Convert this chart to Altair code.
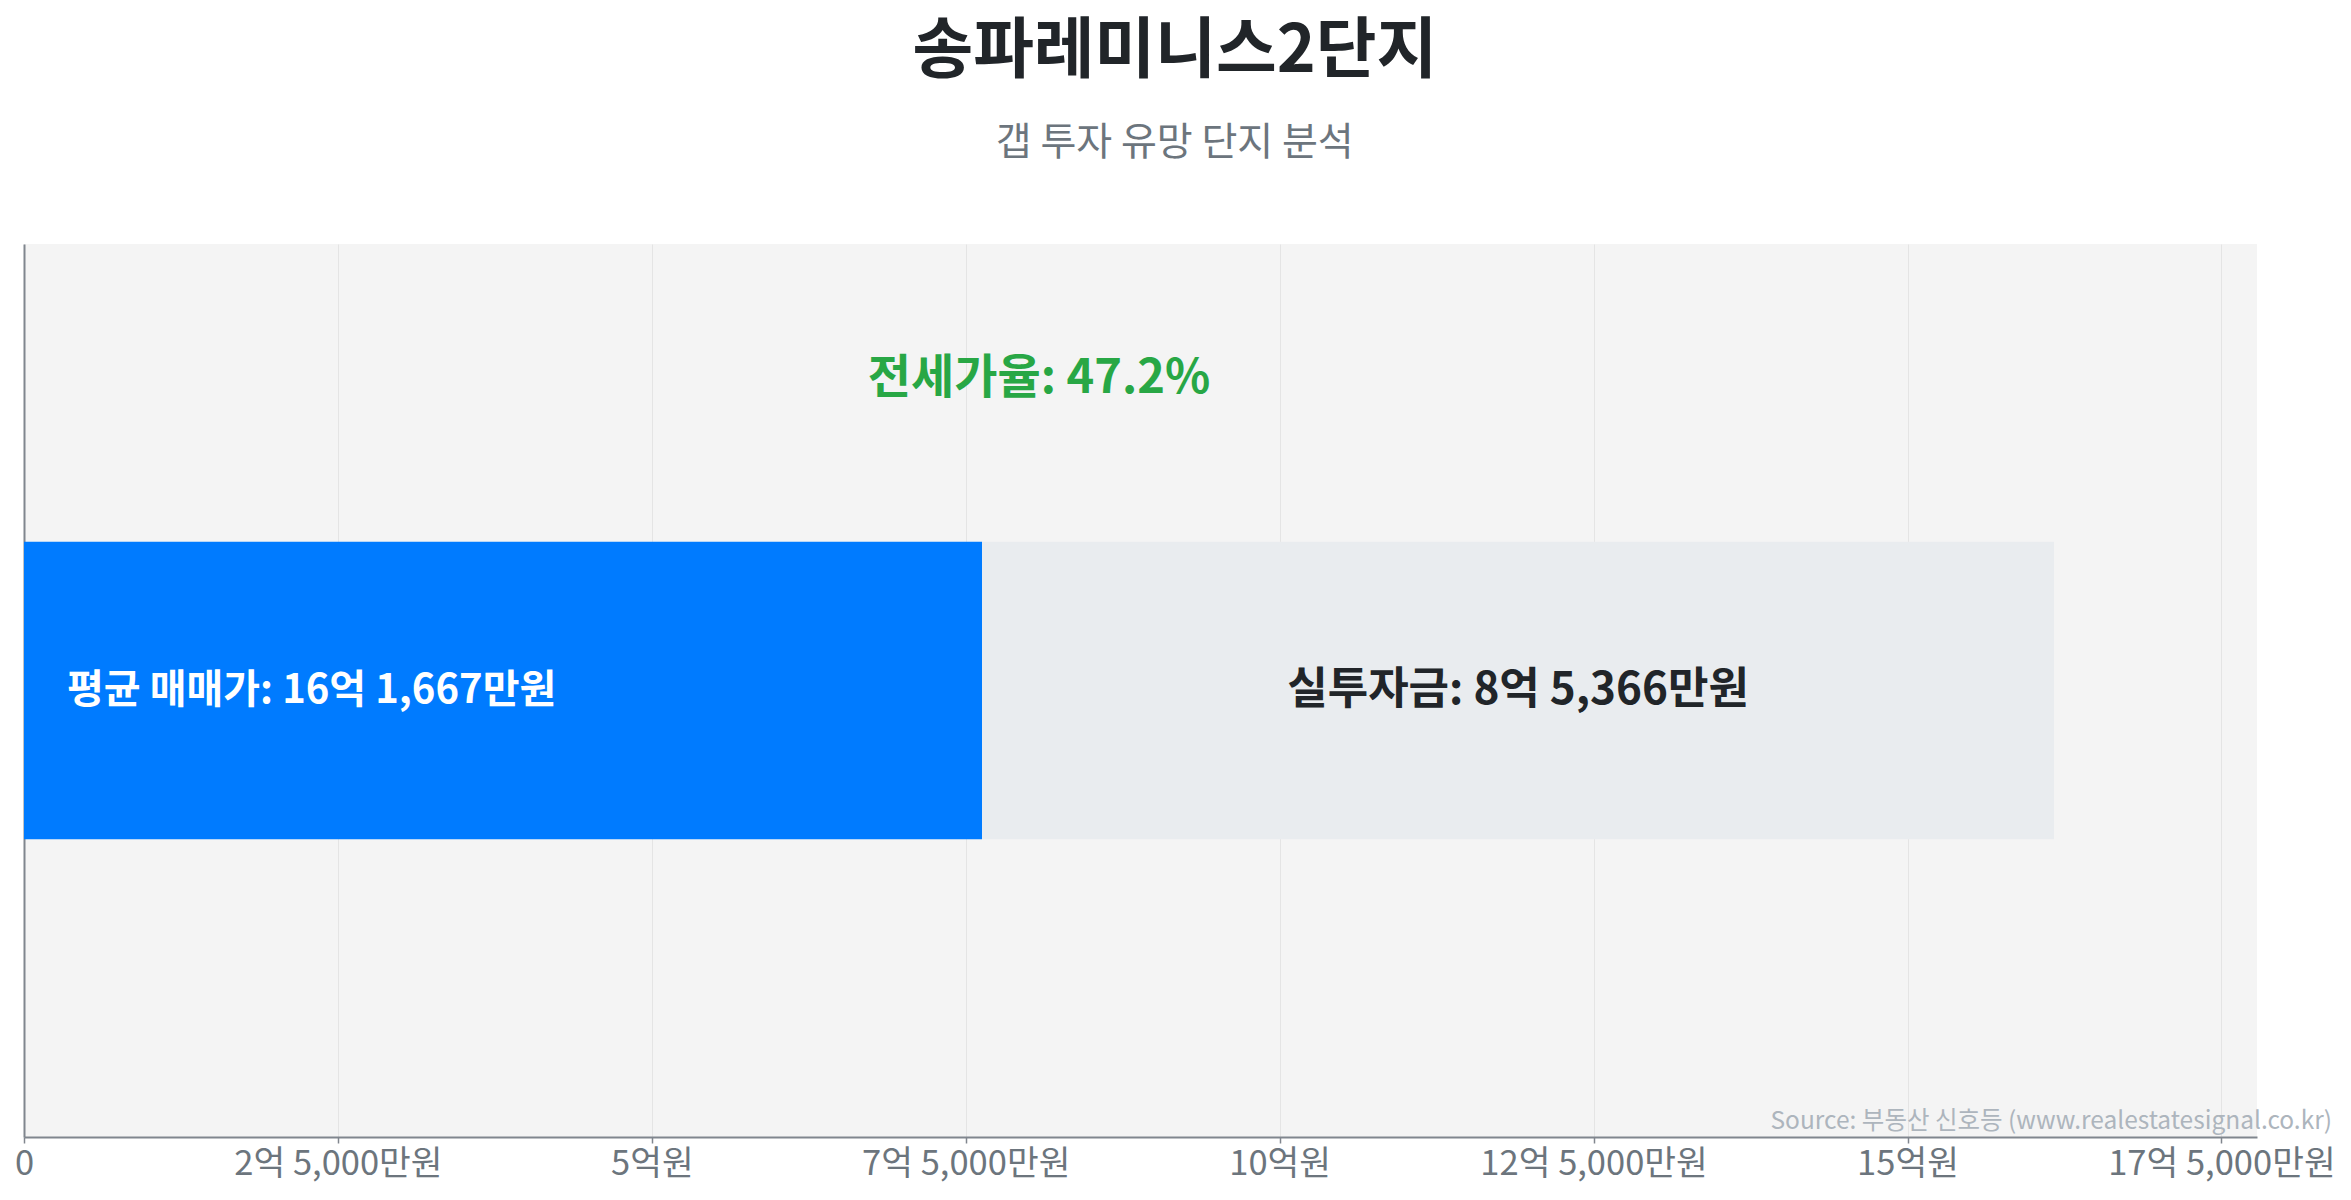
import altair as alt
import pandas as pd

# ---- data (values in 만원) ----
complex_name = "송파레미니스2단지"
subtitle_text = "갭 투자 유망 단지 분석"
avg_price = 161667          # 평균 매매가 16억 1,667만원
gap_amount = 85366          # 실투자금 8억 5,366만원
jeonse_rate_label = "전세가율: 47.2%"
price_label = "평균 매매가: 16억 1,667만원"
gap_label = "실투자금: 8억 5,366만원"
source_label = "Source: 부동산 신호등 (www.realestatesignal.co.kr)"
tick_values = [0, 25000, 50000, 75000, 100000, 125000, 150000, 175000]

jeonse = avg_price - gap_amount
domain_max = avg_price * 1.1

bars = pd.DataFrame({
    "row": ["a", "a"],
    "seg": ["jeonse", "gap"],
    "start": [0, jeonse],
    "end": [jeonse, avg_price],
})
labels = pd.DataFrame({
    "row": ["a", "a", "a"],
    "kind": ["price", "gap", "rate"],
    "x": [0, (jeonse + avg_price) / 2, avg_price / 2],
    "text": [price_label, gap_label, jeonse_rate_label],
})
src = pd.DataFrame({"row": ["a"], "x": [domain_max], "text": [source_label]})

FONT = "Noto Sans CJK KR"
W, H = 2233, 893

xscale = alt.Scale(domain=[0, domain_max], nice=False, zero=True)
yscale = alt.Scale(paddingInner=0, paddingOuter=1)

label_expr = (
    "datum.value == 0 ? '0' : "
    "(datum.value % 10000 == 0 ? format(floor(datum.value / 10000), 'd') + '억원' : "
    "format(floor(datum.value / 10000), 'd') + '억 ' + format(datum.value % 10000, ',') + '만원')"
)

x_axis = alt.Axis(
    values=tick_values, labelExpr=label_expr, title=None,
    grid=True, gridColor="#e4e4e4", gridWidth=1,
    domainColor="#80868e", domainWidth=2,
    tickColor="#80868e", tickWidth=1.5, tickSize=6,
    labelFont=FONT, labelFontSize=34.5, labelColor="#6c757d", labelPadding=4,
    labelFlush=False, labelLimit=0, labelOverlap=False,
)
y_axis = alt.Axis(
    labels=False, ticks=False, title=None, grid=False,
    domainColor="#80868e", domainWidth=2,
)

bar = alt.Chart(bars).mark_bar().encode(
    x=alt.X("start:Q", scale=xscale, axis=x_axis),
    x2="end:Q",
    y=alt.Y("row:N", scale=yscale, axis=y_axis),
    color=alt.Color("seg:N", scale=alt.Scale(domain=["jeonse", "gap"], range=["#007bff", "#e9ecef"]), legend=None),
)

price_text = alt.Chart(labels).transform_filter("datum.kind == 'price'").mark_text(
    align="left", baseline="middle", dx=43, font=FONT, fontSize=40, fontWeight="bold", color="#ffffff"
).encode(x=alt.X("x:Q", scale=xscale), y=alt.Y("row:N", scale=yscale), text="text:N")

gap_text = alt.Chart(labels).transform_filter("datum.kind == 'gap'").mark_text(
    align="center", baseline="middle", font=FONT, fontSize=44, fontWeight="bold", color="#212529"
).encode(x=alt.X("x:Q", scale=xscale), y=alt.Y("row:N", scale=yscale), text="text:N")

rate_text = alt.Chart(labels).transform_filter("datum.kind == 'rate'").mark_text(
    align="center", baseline="middle", dy=-312, font=FONT, fontSize=47, fontWeight="bold", color="#28a745"
).encode(x=alt.X("x:Q", scale=xscale), y=alt.Y("row:N", scale=yscale), text="text:N")

source_text = alt.Chart(src).mark_text(
    align="right", baseline="bottom", dx=75, dy=-3, font=FONT, fontSize=24.5, color="#adb5bd"
).encode(x=alt.X("x:Q", scale=xscale), y=alt.value(H), text="text:N")

chart = alt.layer(bar, price_text, gap_text, rate_text, source_text).properties(
    width=W, height=H,
    background="#ffffff",
    title=alt.TitleParams(
        text=complex_name, subtitle=subtitle_text, anchor="middle", frame="bounds",
        font=FONT, fontSize=66, fontWeight="bold", color="#212529",
        subtitleFont=FONT, subtitleFontSize=39, subtitleColor="#6c757d",
        subtitlePadding=38, offset=80,
    ),
    padding={"left": 16, "top": 236, "right": 86, "bottom": 55},
    autosize=alt.AutoSizeParams(type="none"),
).configure_view(fill="#f4f4f4", stroke=None)

chart.save("out.html", embed_options={"renderer": "svg", "actions": False})
